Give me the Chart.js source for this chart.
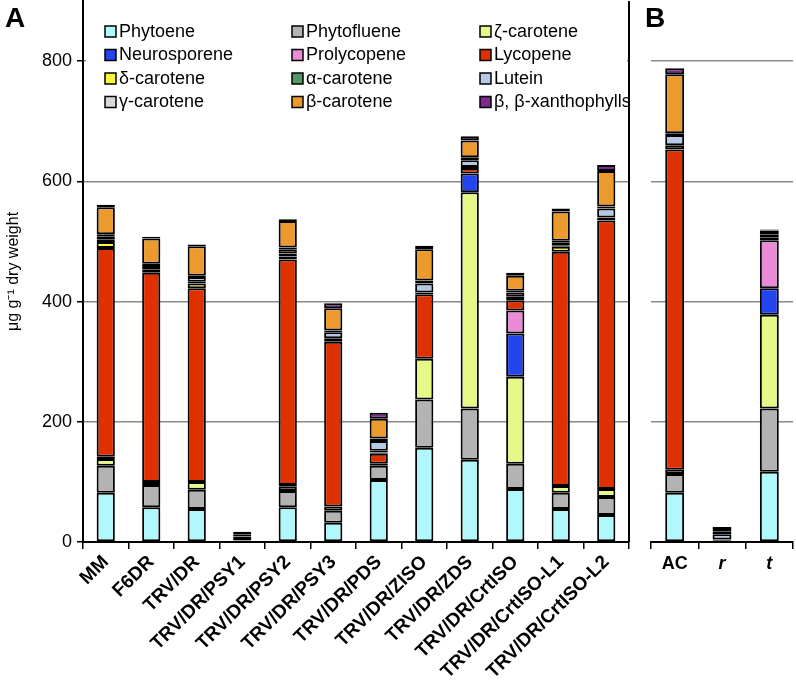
<!DOCTYPE html>
<html>
<head>
    <title>Carotenoid content</title>
    <script src="https://cdn.jsdelivr.net/npm/chart.js"></script>
    <style>
        body {
            margin: 0;
            background: #fff;
            width: 796px;
            height: 683px;
            position: relative;
            overflow: hidden;
        }
        #chartA { position: absolute; left: 0; top: 0; }
        #chartB { position: absolute; left: 640px; top: 0; }
    </style>
</head>
<body>
    <canvas id="chartA" width="640" height="683"></canvas>
    <canvas id="chartB" width="156" height="683"></canvas>

    <script>
        const categories = [
            "MM", "F6DR", "TRV/DR", "TRV/DR/PSY1", "TRV/DR/PSY2", "TRV/DR/PSY3",
            "TRV/DR/PDS", "TRV/DR/ZISO", "TRV/DR/ZDS", "TRV/DR/CrtISO",
            "TRV/DR/CrtISO-L1", "TRV/DR/CrtISO-L2",
            "AC", "r", "t"
        ];
        const splitAt = 12; // first 12 in panel A, rest in panel B

        const yTicks = [0, 200, 400, 600, 800];

        // µg/g dry weight, same order as categories
        const phytoene     = [82, 58, 55, 2, 58, 32, 103, 157, 137, 88, 55, 45, 82, 3, 117];
        const phytofluene  = [45, 37, 32, 1, 27, 20, 24, 80, 85, 42, 27, 30, 31, 1, 105];
        const zetaCarotene = [11, 5, 13, 0, 7, 7, 3, 68, 360, 145, 11, 13, 7, 0, 156];
        const neurosporene = [0, 0, 0, 0, 0, 0, 0, 0, 31, 72, 0, 0, 0, 0, 44];
        const prolycopene  = [4, 0, 0, 0, 3, 0, 0, 0, 0, 38, 0, 0, 0, 0, 80];
        const lycopene     = [347, 348, 322, 0, 375, 274, 17, 107, 9, 17, 390, 447, 533, 0, 4];
        const deltaCarotene = [10, 5, 8, 0, 5, 3, 2, 0, 0, 0, 8, 0, 0, 0, 0];
        const alphaCarotene = [4, 3, 3, 0, 5, 3, 3, 3, 2, 6, 2, 5, 7, 0, 0];
        const lutein       = [5, 3, 8, 6, 7, 10, 16, 15, 11, 7, 5, 15, 17, 9, 3];
        const gammaCarotene = [4, 4, 2, 1, 3, 3, 4, 5, 5, 3, 3, 3, 3, 4, 3];
        const betaCarotene = [45, 42, 49, 3, 44, 37, 33, 52, 28, 25, 49, 59, 98, 3, 6];
        const xanthophylls = [4, 3, 3, 4, 3, 8, 10, 6, 7, 5, 5, 10, 10, 5, 2];

        const series = [
            { label: 'Phytoene', data: phytoene, color: '#b0f8fc' },
            { label: 'Phytofluene', data: phytofluene, color: '#b3b3b3' },
            { label: 'ζ-carotene', data: zetaCarotene, color: '#e4f987' },
            { label: 'Neurosporene', data: neurosporene, color: '#2444ee' },
            { label: 'Prolycopene', data: prolycopene, color: '#e98bd6' },
            { label: 'Lycopene', data: lycopene, color: '#df3100' },
            { label: 'δ-carotene', data: deltaCarotene, color: '#f9f53a' },
            { label: 'α-carotene', data: alphaCarotene, color: '#519864' },
            { label: 'Lutein', data: lutein, color: '#b5c8e4' },
            { label: 'γ-carotene', data: gammaCarotene, color: '#dadada' },
            { label: 'β-carotene', data: betaCarotene, color: '#ec9a2e' },
            { label: 'β, β-xanthophylls', data: xanthophylls, color: '#7e2a8c' }
        ];

        const FONT = "'Liberation Sans', Arial, sans-serif";
        Chart.defaults.font.family = FONT;
        Chart.defaults.color = '#000';

        function makeDatasets(from, to) {
            return series.map(s => ({
                label: s.label,
                // empty segments are left out so they don't draw a border line
                data: s.data.slice(from, to).map(v => v === 0 ? null : v),
                backgroundColor: s.color,
                borderColor: '#000',
                borderWidth: 2,
                borderSkipped: false,
                categoryPercentage: 1,
                barPercentage: 0.4
            }));
        }

        const gridColor = ctx => (ctx.tick && ctx.tick.value > 0) ? '#8a8a8a' : 'rgba(0,0,0,0)';

        // white legend box with 3 columns, panel letter, right frame of panel A
        const decorA = {
            id: 'decorA',
            beforeDatasetsDraw(chart) {
                const c = chart.ctx;
                c.save();
                c.fillStyle = '#fff';
                c.fillRect(86, 18, 541, 98);
                c.restore();
            },
            afterDraw(chart) {
                const c = chart.ctx;
                const area = chart.chartArea;
                c.save();
                c.strokeStyle = '#000';
                c.lineWidth = 2;
                c.beginPath();
                c.moveTo(area.right, area.top);
                c.lineTo(area.right, area.bottom);
                c.stroke();

                const colX = [105, 292, 480];
                c.font = '18px ' + FONT;
                c.textBaseline = 'middle';
                c.textAlign = 'left';
                series.forEach((s, i) => {
                    const x = colX[i % 3];
                    const y = 32 + Math.floor(i / 3) * 23.5;
                    c.fillStyle = s.color;
                    c.fillRect(x, y - 6, 11, 11);
                    c.lineWidth = 1.5;
                    c.strokeStyle = '#000';
                    c.strokeRect(x, y - 6, 11, 11);
                    c.fillStyle = '#000';
                    c.fillText(s.label, x + 14, y);
                });

                c.font = 'bold 28px ' + FONT;
                c.textBaseline = 'top';
                c.fillText('A', 5, 5);
                c.restore();
            }
        };

        const decorB = {
            id: 'decorB',
            afterDraw(chart) {
                const c = chart.ctx;
                c.save();
                c.font = 'bold 28px ' + FONT;
                c.fillStyle = '#000';
                c.textBaseline = 'top';
                c.fillText('B', 5, 5);
                c.restore();
            }
        };

        function yScale(showLabels) {
            return {
                stacked: true,
                min: 0,
                max: 900,
                afterBuildTicks: scale => {
                    scale.ticks = yTicks.map(v => ({ value: v }));
                },
                afterFit: scale => {
                    scale.width = showLabels ? 83 : 11;
                    scale.paddingTop = 0;
                    scale.paddingBottom = 0;
                },
                grid: {
                    color: gridColor,
                    lineWidth: 1.5,
                    drawTicks: showLabels,
                    tickLength: 6,
                    tickColor: '#000'
                },
                border: { display: showLabels, color: '#000', width: 2 },
                ticks: {
                    display: showLabels,
                    font: { size: 18 },
                    padding: 5
                },
                title: {
                    display: showLabels,
                    text: 'μg g⁻¹ dry weight',
                    font: { size: 16 },
                    padding: { top: 4, bottom: 0 }
                }
            };
        }

        new Chart(document.getElementById('chartA'), {
            type: 'bar',
            data: {
                labels: categories.slice(0, splitAt),
                datasets: makeDatasets(0, splitAt)
            },
            options: {
                responsive: false,
                animation: false,
                layout: { padding: { top: 1, right: 11, left: 0, bottom: 0 } },
                plugins: { legend: { display: false }, tooltip: { enabled: false } },
                scales: {
                    x: {
                        stacked: true,
                        afterFit: scale => { scale.height = 141; },
                        grid: { drawOnChartArea: false, tickLength: 7, tickColor: '#000', lineWidth: 1.5 },
                        border: { color: '#000', width: 2 },
                        ticks: {
                            font: { size: 19, weight: 'bold' },
                            maxRotation: 45,
                            minRotation: 45,
                            padding: 2,
                            autoSkip: false
                        }
                    },
                    y: yScale(true)
                }
            },
            plugins: [decorA]
        });

        new Chart(document.getElementById('chartB'), {
            type: 'bar',
            data: {
                labels: categories.slice(splitAt),
                datasets: makeDatasets(splitAt, categories.length)
            },
            options: {
                responsive: false,
                animation: false,
                layout: { padding: { top: 1, right: 3, left: 0, bottom: 0 } },
                plugins: { legend: { display: false }, tooltip: { enabled: false } },
                scales: {
                    x: {
                        stacked: true,
                        afterFit: scale => { scale.height = 141; },
                        grid: { drawOnChartArea: false, tickLength: 7, tickColor: '#000', lineWidth: 1.5 },
                        border: { color: '#000', width: 2 },
                        ticks: {
                            font: ctx => ({
                                size: 18,
                                weight: 'bold',
                                style: ctx.index > 0 ? 'italic' : 'normal'
                            }),
                            maxRotation: 0,
                            minRotation: 0,
                            padding: 4
                        }
                    },
                    y: yScale(false)
                }
            },
            plugins: [decorB]
        });
    </script>
</body>
</html>
